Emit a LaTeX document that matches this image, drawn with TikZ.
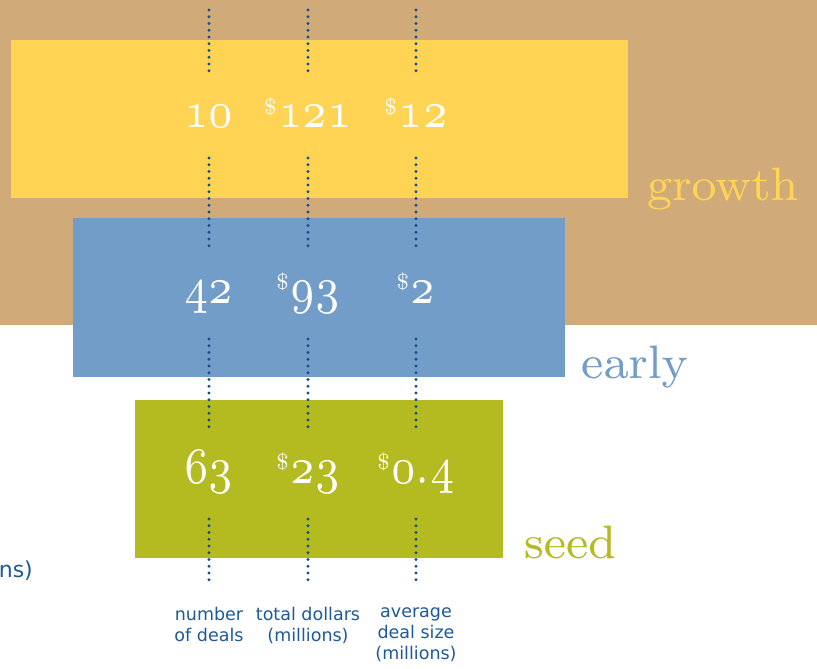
\documentclass[tikz,border=0pt]{standalone}
\usepackage{fontspec}
\newfontfamily\sansf{DejaVu Sans}
\font\osfnum=cmmi7 at 42pt
\font\stagefont=cmr8 at 47pt
\font\dolfont=cmr7 at 22pt
\definecolor{tanc}{RGB}{208,170,120}
\definecolor{yellowc}{RGB}{255,212,85}
\definecolor{bluec}{RGB}{114,157,200}
\definecolor{greenc}{RGB}{180,187,32}
\definecolor{dotc}{RGB}{20,78,140}
\definecolor{labc}{RGB}{31,90,150}
\newcommand\dol{\raisebox{13.5pt}{\dolfont\$}\kern1.5pt}
\newcommand\fig[1]{\scalebox{1}[1.22]{\osfnum #1}}
\begin{document}
\begin{tikzpicture}[x=1pt,y=-1pt,
  band/.style={anchor=north west,inner sep=0pt,outer sep=0pt,draw=none},
  num/.style={anchor=base,inner sep=0pt,text=white},
  stage/.style={anchor=base west,inner sep=0pt,font=\stagefont},
  bottomlab/.style={anchor=north,inner sep=0pt,align=center,text=labc,font=\sansf\fontsize{17.5}{21}\selectfont},
  dotline/.style={draw=dotc,line width=3.1pt,line cap=round,dash pattern=on 0pt off 6.75pt}]
\useasboundingbox (0,0) rectangle (817,669);
\fill[white] (0,0) rectangle (817,669);
% bands
\node[band,fill=tanc,minimum width=817pt,minimum height=325pt] (bg) at (0,0) {};
\node[band,fill=yellowc,minimum width=617pt,minimum height=158pt] (growthbox) at (11,40) {};
\node[band,fill=bluec,minimum width=492pt,minimum height=159pt] (earlybox) at (73,218) {};
\node[band,fill=greenc,minimum width=368pt,minimum height=158pt] (seedbox) at (135,400) {};
% stage labels
\node[stage,text=yellowc] (growth) at (647,200) {growth};
\node[stage,text=bluec] (early) at (581,378) {early};
\node[stage,text=greenc] (seed) at (524,558) {seed};
% numbers
\node[num] (g1) at (209,128) {\fig{10}};
\node[num] (g2) at (308,128) {\dol\fig{121}};
\node[num] (g3) at (416,128) {\dol\fig{12}};
\node[num] (e1) at (209,303) {\fig{42}};
\node[num] (e2) at (308,303) {\dol\fig{93}};
\node[num] (e3) at (416,303) {\dol\fig{2}};
\node[num] (s1) at (209,483) {\fig{63}};
\node[num] (s2) at (308,483) {\dol\fig{23}};
\node[num] (s3) at (416,483) {\dol\fig{0\char58 4}};
% dotted guide lines
\foreach \c/\x in {a/209,b/308,c/416}{
  \coordinate (\c0) at (\x,10);  \coordinate (\c1) at (\x,71);
  \coordinate (\c2) at (\x,158); \coordinate (\c3) at (\x,252);
  \coordinate (\c4) at (\x,339); \coordinate (\c5) at (\x,432);
  \coordinate (\c6) at (\x,519); \coordinate (\c7) at (\x,580);
  \draw[dotline] (\c0) -- (\c1);
  \draw[dotline] (\c2) -- (\c3);
  \draw[dotline] (\c4) -- (\c5);
  \draw[dotline] (\c6) -- (\c7);
}
% bottom labels
\node[bottomlab] (l1) at (209,607) {number\\of deals};
\node[bottomlab] (l2) at (308,607) {total dollars\\(millions)};
\node[bottomlab] (l3) at (416,607) {average\\deal size\\(millions)};
\node[anchor=base east,inner sep=0pt,text=labc,font=\sansf\fontsize{22}{26}\selectfont] (cut) at (33,577) {ns)};
\end{tikzpicture}
\end{document}
